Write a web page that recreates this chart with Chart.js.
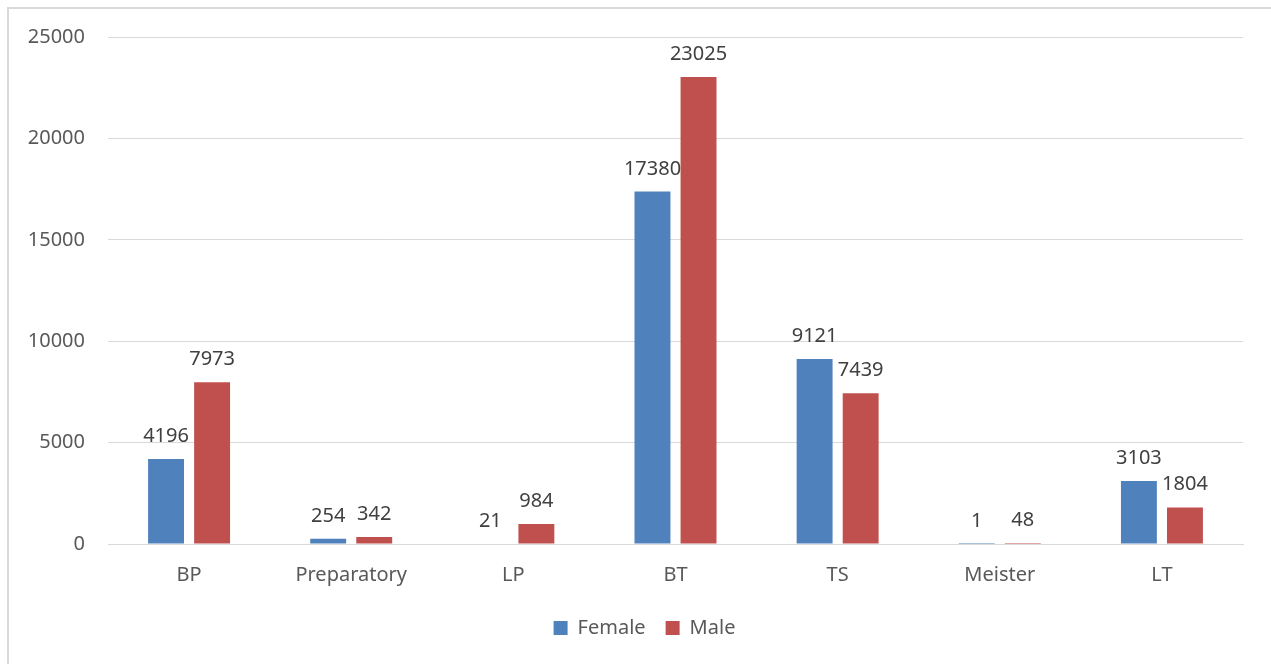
<!DOCTYPE html>
<html>
<head>
<meta charset="utf-8">
<script src="https://cdn.jsdelivr.net/npm/chart.js@4.4.1/dist/chart.umd.min.js"></script>
<style>
  html, body { margin: 0; padding: 0; background: #ffffff; }
  #wrap { position: relative; width: 1271px; height: 664px; }
</style>
</head>
<body>
<div id="wrap"><canvas id="chart" width="1271" height="664"></canvas></div>
<script>
// Enrolment by programme and sex
const categories = ['BP', 'Preparatory', 'LP', 'BT', 'TS', 'Meister', 'LT'];
const femaleValues = [4196, 254, 21, 17380, 9121, 1, 3103];
const maleValues = [7973, 342, 984, 23025, 7439, 48, 1804];
const yTicks = [0, 5000, 10000, 15000, 20000, 25000];

const FONT = '"Noto Sans", "Open Sans", sans-serif';
const TEXT = '#595959';
const GRID = '#d9d9d9';

// Value labels above each bar
const valueLabels = {
  id: 'valueLabels',
  afterDatasetsDraw(chart) {
    const ctx = chart.ctx;
    ctx.save();
    ctx.font = '20px ' + FONT;
    ctx.fillStyle = '#404040';
    ctx.textAlign = 'center';
    ctx.textBaseline = 'alphabetic';
    chart.data.datasets.forEach((ds, i) => {
      chart.getDatasetMeta(i).data.forEach((bar, j) => {
        ctx.fillText(String(ds.data[j]), bar.x, bar.y - 17);
      });
    });
    ctx.restore();
  }
};

// Light frame around the chart, and the legend nudged under the plot centre
const frame = {
  id: 'frame',
  afterLayout(chart) {
    if (chart.legend) {
      chart.legend.left += 23;
      chart.legend.right += 23;
    }
  },
  beforeDraw(chart) {
    const ctx = chart.ctx;
    ctx.save();
    ctx.strokeStyle = GRID;
    ctx.lineWidth = 2;
    ctx.beginPath();
    ctx.moveTo(8, chart.height + 5);
    ctx.lineTo(8, 8);
    ctx.lineTo(chart.width + 5, 8);
    ctx.stroke();
    ctx.restore();
  }
};

new Chart(document.getElementById('chart'), {
  type: 'bar',
  data: {
    labels: categories,
    datasets: [
      { label: 'Female', data: femaleValues, backgroundColor: '#4f81bd',
        categoryPercentage: 0.568, barPercentage: 0.78 },
      { label: 'Male', data: maleValues, backgroundColor: '#c0504d',
        categoryPercentage: 0.568, barPercentage: 0.78 }
    ]
  },
  options: {
    responsive: false,
    animation: false,
    layout: { padding: { top: 37, right: 28, bottom: 16, left: 0 } },
    plugins: {
      legend: {
        position: 'bottom',
        labels: {
          font: { family: FONT, size: 20 },
          color: TEXT,
          boxWidth: 14,
          boxHeight: 14,
          padding: 20
        }
      },
      tooltip: { enabled: false }
    },
    scales: {
      x: {
        grid: { display: false, drawTicks: false },
        border: { color: GRID, width: 1 },
        ticks: { font: { family: FONT, size: 20 }, color: TEXT, padding: 19 },
        afterFit(scale) { scale.height = 54; }
      },
      y: {
        min: 0,
        max: 25000,
        grid: { color: GRID, lineWidth: 1, drawTicks: false },
        border: { display: false },
        afterBuildTicks(scale) { scale.ticks = yTicks.map(v => ({ value: v })); },
        ticks: {
          font: { family: FONT, size: 20 },
          color: TEXT,
          padding: 23,
          callback: (v) => String(v)
        },
        afterFit(scale) { scale.width = 108; }
      }
    }
  },
  plugins: [valueLabels, frame]
});
</script>
</body>
</html>
